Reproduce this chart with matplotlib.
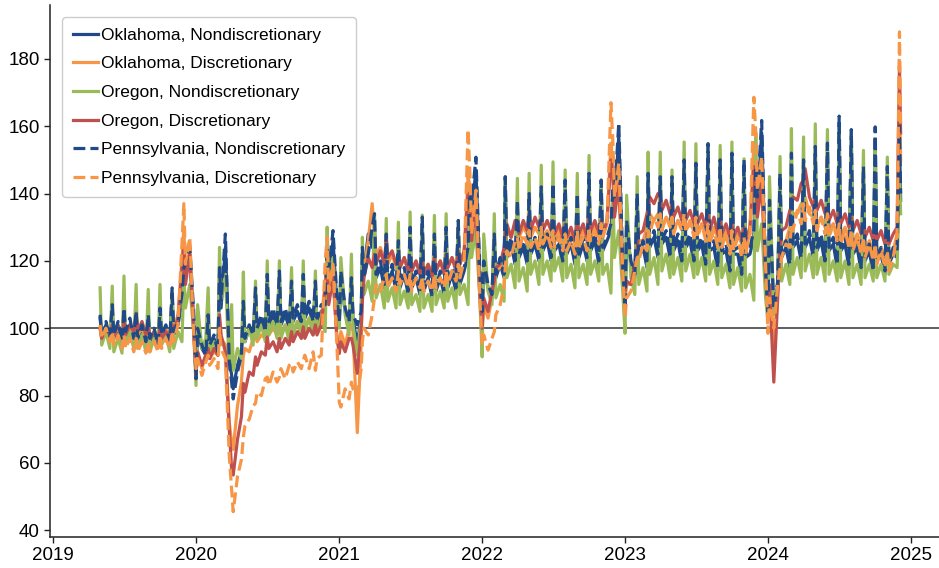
import matplotlib
matplotlib.use("Agg")
import matplotlib.pyplot as plt
import matplotlib.dates as mdates
import pandas as pd

# Sampling: four readings per month (days 1, 5, 16, 26) from May 2019 to Nov 2024,
# then two readings in early December 2024.
SAMPLE_DAYS = [1, 5, 16, 26]
FIRST_MONTH = "2019-05"
LAST_FULL_MONTH = "2024-11"
FINAL_DATES = ["2024-12-02", "2024-12-05"]

# Indexed spending (100 = baseline), one row per year.
ok_nondisc = [
    103, 98, 101, 97, 106, 97, 100, 96, 105, 98, 101, 97, 104, 97, 100, 96,
    103, 96, 99, 95, 105, 97, 100, 96, 110, 98, 101, 108, 116, 117, 122, 103,
    86, 99, 94, 92, 103, 94, 97, 93, 116, 106, 124, 92, 86, 82, 89, 93,
    106, 96, 100, 97, 110, 99, 102, 98, 114, 101, 104, 100, 115, 101, 104, 100,
    112, 102, 105, 101, 114, 103, 106, 101, 112, 102, 105, 106, 122, 115, 126, 107,
    101, 115, 105, 101, 113, 103, 95, 104, 122, 117, 128, 124, 130, 115, 118, 112,
    126, 113, 117, 111, 124, 112, 116, 110, 128, 112, 115, 110, 130, 111, 115, 109,
    126, 111, 115, 110, 128, 112, 116, 111, 130, 113, 117, 122, 138, 134, 147, 115,
    104, 118, 112, 109, 126, 115, 119, 115, 142, 121, 125, 119, 136, 121, 124, 119,
    138, 122, 125, 120, 140, 123, 126, 120, 141, 123, 125, 119, 142, 122, 125, 119,
    138, 121, 125, 120, 144, 123, 126, 119, 142, 123, 126, 129, 140, 137, 157, 117,
    105, 130, 119, 115, 138, 121, 124, 118, 144, 124, 127, 121, 143, 125, 127, 121,
    143, 123, 126, 119, 148, 124, 126, 119, 147, 123, 125, 118, 151, 123, 124, 117,
    148, 122, 123, 116, 150, 122, 122, 115, 148, 121, 122, 127, 146, 137, 158, 116,
    103, 136, 105, 113, 144, 121, 124, 118, 150, 124, 126, 120, 148, 124, 127, 121,
    152, 123, 126, 119, 153, 123, 125, 118, 160, 123, 125, 118, 156, 122, 124, 117,
    146, 120, 123, 116, 156, 120, 122, 116, 146, 119, 122, 121, 156, 138,
]

ok_disc = [
    100, 97, 99, 98, 101, 98, 100, 97, 102, 98, 100, 99, 101, 98, 100, 97,
    100, 97, 99, 96, 101, 98, 100, 97, 102, 100, 104, 120, 130, 115, 125, 100,
    88, 93, 88, 92, 94, 91, 93, 92, 102, 97, 95, 72, 66, 64, 77, 84,
    92, 94, 93, 97, 98, 96, 98, 97, 100, 98, 100, 98, 101, 98, 101, 99,
    102, 99, 102, 100, 103, 100, 103, 101, 103, 100, 103, 113, 120, 108, 117, 97,
    95, 99, 95, 100, 101, 99, 69, 96, 112, 117, 126, 137, 128, 122, 124, 120,
    124, 119, 122, 118, 122, 118, 121, 117, 121, 117, 120, 116, 120, 116, 119, 116,
    121, 117, 120, 117, 122, 118, 121, 118, 123, 119, 123, 145, 142, 128, 138, 112,
    100, 107, 103, 109, 112, 117, 118, 123, 126, 129, 127, 131, 131, 127, 130, 128,
    131, 127, 130, 128, 131, 127, 129, 127, 130, 126, 129, 126, 129, 125, 128, 125,
    130, 126, 129, 126, 131, 127, 130, 127, 131, 127, 131, 155, 148, 134, 144, 116,
    108, 113, 113, 118, 122, 126, 126, 130, 131, 134, 132, 134, 134, 130, 133, 131,
    133, 129, 132, 130, 133, 129, 131, 129, 132, 128, 131, 128, 131, 127, 130, 127,
    130, 126, 129, 126, 129, 125, 128, 125, 128, 124, 128, 155, 150, 135, 145, 117,
    104, 111, 95, 111, 120, 125, 126, 130, 131, 134, 134, 137, 137, 139, 134, 133,
    134, 130, 133, 130, 133, 129, 131, 128, 131, 127, 130, 127, 129, 125, 128, 125,
    127, 123, 126, 123, 126, 122, 124, 121, 124, 120, 123, 128, 170, 150,
]

or_nondisc = [
    112, 95, 99, 94, 112.5, 93, 97, 92.6, 115.5, 95, 99, 94, 113, 94, 98, 93,
    111.5, 93, 97, 94, 113, 95, 98, 93, 111, 94, 99, 96, 115, 106, 113, 99,
    83, 107, 94, 97, 112, 93, 96, 92, 124, 108, 116, 88, 107, 87.5, 94, 91,
    116.7, 96, 100, 95, 114, 97, 101, 96, 120, 98, 102, 97, 120, 97, 101, 96,
    118, 98, 102, 97, 120, 99, 103, 98, 117, 99, 103, 99, 130, 114, 121, 103,
    100, 121, 104, 98, 122, 101, 92, 103, 127, 110, 114, 108, 134, 109, 113, 106,
    132.6, 108, 112, 106, 131.5, 107, 111, 106, 134.5, 107, 110, 105, 133.6, 106, 110, 105,
    133.5, 107, 111, 106, 134, 108, 112, 106, 132, 110, 113, 107, 140, 121, 129, 109,
    91.5, 128, 111, 107, 134, 109, 113, 108, 145, 115, 119, 112, 144.5, 114, 118, 111,
    146, 116, 120, 113, 148.4, 116, 120, 114, 149.4, 117, 121, 114, 147, 115, 119, 112,
    146, 115, 119, 113, 151.3, 116, 120, 114, 144, 116, 119, 110.4, 140, 121, 129, 111,
    98.5, 139.5, 115, 110, 145, 113, 118, 111, 152.3, 116, 121, 113, 152.3, 117, 122, 115,
    147, 116, 121, 114, 155.3, 117, 122, 115, 154.8, 116, 121, 114, 154.8, 116, 120, 113,
    154.3, 115, 119, 112, 155.3, 113, 118, 111, 150.3, 112, 116, 108.3, 158, 123, 131, 109,
    102.4, 145, 104, 112, 151, 114, 119, 113, 159.3, 116, 121, 115, 156.8, 117, 122, 115,
    160.7, 116, 121, 114, 159, 116, 120, 114, 160, 115, 120, 113, 158.8, 115, 119, 113,
    152.8, 115, 119, 114, 156, 115, 119, 114, 150.8, 116, 119, 118, 146, 134,
]

or_disc = [
    100, 97, 100, 98, 101, 98, 101, 97, 102, 98, 101, 99, 104.5, 99, 102, 98,
    101, 97, 99, 96, 100, 97, 99, 97, 101, 99, 103, 118, 125, 113, 122, 99,
    86, 93, 89, 92, 94, 91, 94, 92, 104, 98, 93, 70, 58, 56.4, 67, 73.7,
    83.6, 81, 87, 86, 91.5, 89, 93, 92, 97.4, 94, 96, 93, 97, 94, 97, 95,
    99, 96, 99, 97, 100.4, 97, 100, 98, 101, 98, 101, 112, 118, 107, 115, 97,
    92.5, 96, 93, 97, 97, 95, 86.6, 100, 108, 115, 121, 118, 122, 119, 123, 119,
    126.7, 121, 123, 119, 122, 118, 121, 117, 121, 117, 120, 116, 120, 116, 119, 115,
    121, 117, 120, 116, 122, 118, 121, 117, 123, 119, 123, 140, 138, 126, 136, 110,
    100, 109, 105, 111, 114, 118, 119, 124, 128, 131, 127, 132, 132, 128, 132, 129,
    134, 129, 133, 130, 133, 129, 132, 129, 132, 128, 131, 127, 131, 127, 130, 126,
    132, 128, 131, 127, 133, 129, 132, 128, 132, 128, 132, 150, 145, 133, 143, 116,
    111, 114, 113, 119, 124, 128, 129, 134, 136, 139, 137, 140, 139, 135, 138, 134,
    137, 133, 136, 132, 136, 132, 135, 131, 135, 131, 134, 130, 134, 129, 133, 128,
    132, 128, 131, 127, 131, 127, 130, 126, 130, 126, 130, 148, 145, 133, 143, 116,
    108, 113, 84, 109, 124, 129, 130, 135, 136, 139, 138, 143, 144, 147.4, 139, 136,
    139, 135, 138, 134, 136, 132, 135, 131, 135, 131, 134, 130, 133, 129, 132, 128,
    131, 127, 130, 126, 130, 126, 129, 125, 129, 125, 128, 130, 178, 158,
]

pa_nondisc = [
    104, 98, 102, 97, 107, 98, 102, 96, 106, 99, 103, 97, 105, 97, 101, 96,
    104, 97, 100, 95, 106, 98, 101, 96, 112, 99, 102, 110, 118, 119, 124, 105,
    85, 100, 95, 92, 104, 95, 98, 93, 118, 108, 128, 90, 84, 79, 87, 92,
    108, 97, 101, 98, 112, 100, 104, 99, 116, 102, 106, 101, 117, 102, 106, 101,
    114, 103, 107, 102, 116, 104, 108, 102, 114, 103, 107, 107, 124, 117, 129, 109,
    102, 117, 106, 102, 115, 104, 101, 105, 124, 115, 122, 130, 134, 116, 120, 113,
    128, 114, 119, 112, 126, 113, 118, 111, 130, 113, 117, 111, 133, 112, 117, 110,
    128, 112, 117, 111, 130, 113, 118, 112, 132, 114, 118, 124, 140, 137, 150.8, 117,
    105, 120, 113, 110, 128, 116, 121, 116, 145, 122, 127, 120, 138, 122, 126, 120,
    140, 123, 127, 121, 142, 124, 128, 121, 143, 124, 127, 120, 144, 123, 127, 120,
    140, 122, 127, 121, 146, 124, 128, 120, 144, 124, 127, 131, 142, 139, 161, 119,
    106, 132, 120, 116, 140, 122, 126, 119, 146, 125, 129, 122, 145, 126, 129, 122,
    145, 124, 128, 120, 150, 125, 128, 120, 149, 124, 127, 119, 154.8, 124, 126, 118,
    150, 123, 125, 117, 152, 123, 124, 116, 150, 122, 124, 129, 148, 139, 161.7, 117,
    104, 138, 106, 114, 146, 122, 126, 119, 152, 125, 128, 121, 150, 125, 129, 122,
    154, 124, 128, 120, 155, 124, 127, 119, 163, 124, 127, 119, 159, 123, 126, 118,
    148, 121, 125, 117, 159.8, 121, 124, 117, 148, 120, 124, 123, 160, 140,
]

pa_disc = [
    101, 97, 100, 96, 99, 95, 98, 94, 98, 94, 97, 93, 97, 93, 96, 92.6,
    96, 93, 96, 93, 98, 94, 97, 94, 99, 96, 101, 125, 137, 119, 127, 99,
    88, 91, 86, 90, 92, 89, 91, 88, 100, 94, 91, 62, 52, 45.5, 56, 61,
    67.7, 71, 73, 77, 77.7, 81, 80, 85, 85.5, 83, 87, 84, 85.5, 88, 85, 89,
    89.6, 87, 90, 88, 90.5, 92, 88, 93, 87.5, 91, 92, 120, 127, 111, 119, 95,
    78, 76.6, 82, 79, 84, 82, 80, 88, 96, 100, 98, 104, 109, 113, 111, 115,
    116, 112, 115, 111, 117, 113, 116, 112, 116, 111, 115, 112, 115, 111, 114, 111,
    116, 112, 115, 112, 117, 113, 117, 114, 119, 115, 120, 159, 145, 128, 141, 109,
    95, 98, 93.5, 97, 99, 104, 107, 113, 118, 123, 121, 126, 127, 123, 128, 125,
    129, 124, 127, 123, 130, 125, 128, 124, 129, 124, 127, 123, 128, 123, 126, 122,
    129, 124, 127, 123, 130, 126, 129, 125, 131, 127, 132, 167, 155, 139, 149, 117,
    103, 109, 111, 117, 121, 120, 125, 123, 129, 128, 133, 130, 134, 129, 133, 130,
    133, 128, 132, 129, 134, 129, 132, 127, 133, 127, 131, 126, 131, 125, 129, 124,
    130, 124, 128, 122, 129, 123, 127, 121, 127, 122, 128, 168.6, 158, 141, 151, 119,
    98.5, 109, 100, 113, 118, 121, 125, 124, 131, 129, 135, 131, 137, 132, 136, 131,
    135, 129, 133, 128, 134, 127, 131, 126, 131, 125, 129, 124, 129, 123, 127, 122,
    127, 121, 125, 120, 125, 119, 123, 118, 123, 117, 121, 128, 188, 160,
]

series_labels = [
    "Oklahoma, Nondiscretionary",
    "Oklahoma, Discretionary",
    "Oregon, Nondiscretionary",
    "Oregon, Discretionary",
    "Pennsylvania, Nondiscretionary",
    "Pennsylvania, Discretionary",
]
y_ticks = [40, 60, 80, 100, 120, 140, 160, 180]
x_tick_years = [2019, 2020, 2021, 2022, 2023, 2024, 2025]

# Build the sampling dates
months = pd.period_range(FIRST_MONTH, LAST_FULL_MONTH, freq="M")
dates = [pd.Timestamp(year=m.year, month=m.month, day=d) for m in months for d in SAMPLE_DAYS]
dates += [pd.Timestamp(d) for d in FINAL_DATES]

all_values = [ok_nondisc, ok_disc, or_nondisc, or_disc, pa_nondisc, pa_disc]
for vals in all_values:
    assert len(vals) == len(dates), (len(vals), len(dates))

BLUE = "#1f4a87"
ORANGE = "#f79646"
GREEN = "#9bbb59"
RED = "#c0504d"
styles = [
    dict(color=BLUE, linestyle="-"),
    dict(color=ORANGE, linestyle="-"),
    dict(color=GREEN, linestyle="-"),
    dict(color=RED, linestyle="-"),
    dict(color=BLUE, linestyle="--"),
    dict(color=ORANGE, linestyle="--"),
]

fig = plt.figure(figsize=(9.39, 5.68), dpi=100)
ax = fig.add_axes([50 / 939, 31 / 568, 889 / 939, 532 / 568])

ax.axhline(100, color="#333333", linewidth=1.1, zorder=1)
for vals, label, st in zip(all_values, series_labels, styles):
    ax.plot(dates, vals, label=label, linewidth=2.3, zorder=2, **st)

ax.set_ylim(38, 196)
ax.set_xlim(pd.Timestamp("2018-12-24"), pd.Timestamp("2025-03-13"))
ax.set_yticks(y_ticks)
ax.set_xticks([pd.Timestamp(year=y, month=1, day=1) for y in x_tick_years])
ax.xaxis.set_major_formatter(mdates.DateFormatter("%Y"))

for side in ("top", "right"):
    ax.spines[side].set_visible(False)
for side in ("left", "bottom"):
    ax.spines[side].set_linewidth(1.1)
    ax.spines[side].set_color("#222222")

tick_font = ["Liberation Sans Narrow", "Liberation Sans", "DejaVu Sans"]
ax.tick_params(axis="both", length=4, width=1, color="#222222", labelsize=13.5)
for lbl in ax.get_xticklabels() + ax.get_yticklabels():
    lbl.set_fontfamily(tick_font)

leg = ax.legend(
    loc="upper left",
    prop={"family": ["Liberation Sans", "DejaVu Sans"], "size": 12.5},
    frameon=True,
    fancybox=True,
    framealpha=1,
    edgecolor="#cccccc",
    handlelength=1.45,
    handletextpad=0.2,
    labelspacing=0.78,
    borderpad=0.6,
    borderaxespad=0.7,
)
leg.get_frame().set_linewidth(1.0)

fig.savefig("out.png", dpi=100)
